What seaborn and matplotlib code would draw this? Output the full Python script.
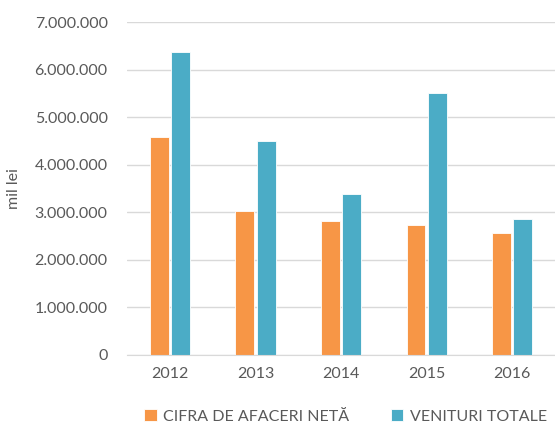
import pandas as pd
import matplotlib.pyplot as plt
import matplotlib.ticker as mticker
import seaborn as sns

years = ['2012', '2013', '2014', '2015', '2016']
cifra_afaceri = [4590000, 3020000, 2820000, 2730000, 2560000]
venituri_totale = [6370000, 4500000, 3390000, 5510000, 2860000]
series_names = ['CIFRA DE AFACERI NETĂ', 'VENITURI TOTALE']
colors = ['#F79646', '#4BACC6']

data = pd.DataFrame({
    'an': years * 2,
    'valoare': cifra_afaceri + venituri_totale,
    'serie': [series_names[0]] * len(years) + [series_names[1]] * len(years),
})

sns.set_style("white")
plt.rcParams['font.family'] = ['Lato', 'DejaVu Sans']

fig = plt.figure(figsize=(5.55, 4.25), dpi=100)
ax = fig.add_axes([0.229, 0.165, 0.771, 0.783])

sns.barplot(data=data, x='an', y='valoare', hue='serie', palette=colors,
            saturation=1, width=0.5, gap=0.12, ax=ax,
            edgecolor='white', linewidth=0.6)

ax.set_ylim(0, 7000000)
ax.set_xlim(-0.5, 4.5)
ax.yaxis.set_major_locator(mticker.MultipleLocator(1000000))
ax.yaxis.set_major_formatter(mticker.FuncFormatter(lambda v, p: f'{int(v):,}'.replace(',', '.')))
ax.grid(axis='y', color='#D9D9D9', linewidth=1)
ax.set_axisbelow(True)
for s in ['top', 'right', 'left']:
    ax.spines[s].set_visible(False)
ax.spines['bottom'].set_color('#D9D9D9')
ax.tick_params(axis='both', length=0, labelsize=11.5, labelcolor='#595959')
ax.tick_params(axis='y', pad=14)
ax.tick_params(axis='x', pad=9)
ax.set_xlabel('')
ax.set_ylabel('mil lei', fontsize=11.5, color='#595959', labelpad=10)

handles, labels = ax.get_legend_handles_labels()
ax.legend(handles, labels, loc='upper center', bbox_to_anchor=(0.51, -0.12),
          ncol=2, frameon=False, fontsize=11.5, labelcolor='#595959',
          handlelength=0.8, handleheight=0.8, handletextpad=0.4, columnspacing=2.6)

fig.savefig('out.png', dpi=100)
